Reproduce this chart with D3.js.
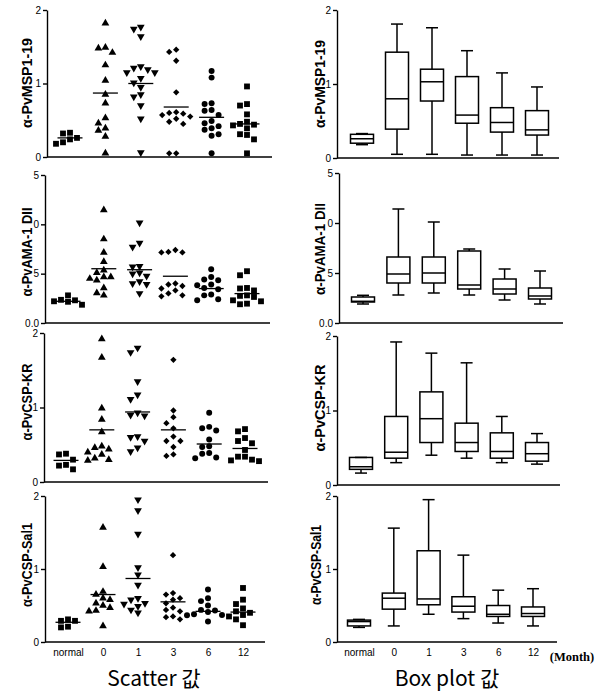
<!DOCTYPE html>
<html><head><meta charset="utf-8">
<script src="https://cdn.jsdelivr.net/npm/d3@7"></script>
<style>body{margin:0;background:#fff}svg{display:block}</style>
</head><body>
<script>
// ---------- data ----------
const groups = ["normal","0","1","3","6","12"];
const titles = ["α-PvMSP1-19","α-PvAMA-1 DII","α-PvCSP-KR","α-PvCSP-Sal1"];
const yMax = [2, 15, 2, 2];
const yTickValues = [[0,1,2],[0,5,10,15],[0,1,2],[0,1,2]];
const yTickLabels = [["0","1","2"],["0.0","5","0","5"],["0","1","2"],["0","1","2"]];

const mspScatter = [
  [0.33,0.32,0.26,0.24,0.2,0.18],
  [1.82,1.49,1.48,1.42,1.25,1.04,0.85,0.73,0.53,0.46,0.39,0.36,0.28,0.05],
  [1.77,1.74,1.64,1.23,1.21,1.19,1.15,1.15,1.07,1.01,0.95,0.85,0.82,0.70,0.52,0.06],
  [1.46,1.43,1.31,0.88,0.61,0.60,0.59,0.57,0.55,0.52,0.48,0.45,0.05,0.05],
  [1.17,1.08,0.73,0.72,0.64,0.63,0.57,0.49,0.46,0.42,0.39,0.37,0.31,0.29,0.05],
  [0.96,0.72,0.70,0.58,0.48,0.45,0.44,0.43,0.39,0.31,0.30,0.24,0.05]
];
const mspMean = [0.26,0.87,1.0,0.68,0.54,0.45];
const mspBox = [[0.18,0.2,0.26,0.32,0.33],[0.05,0.39,0.8,1.43,1.81],[0.05,0.77,1.03,1.2,1.76],
                [0.04,0.47,0.58,1.1,1.45],[0.04,0.35,0.48,0.68,1.15],[0.04,0.31,0.38,0.64,0.96]];

const amaScatter = [
  [2.8,2.35,2.3,2.2,2.15,1.85],
  [11.45,8.5,7.15,6.2,5.35,5.1,4.67,4.67,4.5,4.33,3.55,3.05,2.8],
  [10.15,8.1,7.7,5.75,5.7,5.1,5.0,4.77,4.2,4.0,3.93,3.0],
  [7.4,7.2,7.15,7.15,4.0,3.9,3.75,3.5,3.3,3.0,2.8,2.7],
  [5.45,4.67,4.4,4.33,3.9,3.83,3.55,3.42,2.88,2.8,2.4,2.3],
  [5.25,4.84,3.55,3.5,3.3,2.8,2.75,2.64,2.3,2.2,1.96,1.9]
];
const amaMean = [2.2,5.5,5.4,4.74,3.49,2.98];
const amaBox = [[1.9,2.1,2.17,2.6,2.77],[2.8,4.0,4.9,6.6,11.4],[3.0,4.0,5.0,6.6,10.1],
                [2.8,3.4,3.8,7.2,7.4],[2.3,2.9,3.4,4.4,5.4],[1.9,2.4,2.7,3.5,5.2]];

const krScatter = [
  [0.38,0.37,0.30,0.23,0.22,0.17],
  [1.92,1.67,0.99,0.84,0.67,0.48,0.46,0.44,0.40,0.37,0.32,0.30,0.29],
  [1.80,1.74,1.35,1.17,1.11,0.93,0.90,0.89,0.61,0.60,0.55,0.46,0.41],
  [1.64,0.96,0.87,0.79,0.72,0.61,0.55,0.55,0.47,0.37,0.35],
  [0.93,0.74,0.72,0.69,0.57,0.48,0.47,0.39,0.38,0.33,0.32],
  [0.71,0.68,0.59,0.55,0.52,0.43,0.34,0.34,0.30,0.29,0.28]
];
const krMean = [0.29,0.70,0.94,0.70,0.51,0.45];
const krBox = [[0.16,0.21,0.245,0.37,0.37],[0.3,0.36,0.44,0.92,1.92],[0.4,0.57,0.89,1.25,1.77],
               [0.36,0.45,0.57,0.83,1.64],[0.3,0.36,0.45,0.7,0.92],[0.28,0.32,0.42,0.57,0.69]];

const salScatter = [
  [0.31,0.29,0.29,0.21,0.20],
  [1.57,1.03,0.69,0.65,0.60,0.58,0.53,0.50,0.47,0.43,0.42,0.22],
  [1.95,1.80,1.48,1.02,0.92,0.78,0.60,0.58,0.53,0.52,0.49,0.44,0.40],
  [1.19,0.67,0.65,0.60,0.58,0.53,0.47,0.44,0.42,0.35,0.34,0.31],
  [0.72,0.60,0.56,0.50,0.44,0.43,0.41,0.38,0.37,0.365,0.28],
  [0.74,0.58,0.52,0.46,0.42,0.40,0.37,0.35,0.31,0.23]
];
const salMean = [0.27,0.65,0.87,0.55,0.42,0.41];
const salBox = [[0.2,0.22,0.28,0.3,0.31],[0.22,0.45,0.6,0.67,1.56],[0.38,0.51,0.59,1.25,1.95],
                [0.32,0.41,0.49,0.62,1.19],[0.26,0.35,0.38,0.5,0.71],[0.22,0.35,0.39,0.48,0.73]];

const scatterSets = [mspScatter, amaScatter, krScatter, salScatter];
const meanSets = [mspMean, amaMean, krMean, salMean];
const boxSets = [mspBox, amaBox, krBox, salBox];
const bottomTitles = ["Scatter 값", "Box plot 값"];
const unitLabel = "(Month)";

// ---------- layout ----------
const leftL = [
  {ax:47,x1:272,top:10,bot:157,c0:70,c1:247,tx:32,ty:83,tl:90},
  {ax:45,x1:270,top:175,bot:323,c0:68,c1:247,tx:32,ty:252,tl:89},
  {ax:44,x1:268,top:333,bot:482,c0:66,c1:245,tx:32,ty:402,tl:77},
  {ax:45,x1:265,top:496,bot:642,c0:68,c1:243,tx:32,ty:565,tl:84}];
const rightL = [
  {ax:337,x1:559,top:10,bot:158,c0:362,c1:537,tx:325,ty:84,tl:88},
  {ax:339,x1:563,top:173,bot:323,c0:363,c1:540,tx:325,ty:249,tl:92},
  {ax:337,x1:560,top:336,bot:485,c0:361,c1:537,tx:325,ty:408,tl:87},
  {ax:337,x1:557,top:496,bot:642,c0:359,c1:533,tx:321,ty:565,tl:80}];

const FONT = "'Liberation Sans', Arial, sans-serif";
const svg = d3.select("body").append("svg").attr("width",608).attr("height",698);

function frame(L, i, showX) {
  const y = d3.scaleLinear().domain([0, yMax[i]]).range([L.bot, L.top]);
  const x = d3.scalePoint().domain(groups).range([L.c0, L.c1]);
  const g = svg.append("g");
  const ya = g.append("g").attr("transform",`translate(${L.ax},0)`)
    .call(d3.axisLeft(y).tickValues(yTickValues[i]).tickSize(4).tickSizeOuter(0).tickPadding(2)
      .tickFormat((d,k)=>yTickLabels[i][k]));
  ya.selectAll("path,line").attr("stroke","#000").attr("stroke-width",1.4);
  ya.selectAll("text").attr("font-family",FONT).attr("font-size",10).attr("fill","#000");
  g.append("line").attr("x1",L.ax).attr("x2",L.x1).attr("y1",L.bot).attr("y2",L.bot)
    .attr("stroke","#000").attr("stroke-width",1.5);
  if (showX) {
    const xa = g.append("g").attr("transform",`translate(0,${L.bot})`)
      .call(d3.axisBottom(x).tickSize(0).tickPadding(7));
    xa.select(".domain").remove();
    xa.selectAll("text").attr("font-family",FONT).attr("font-size",10).attr("fill","#000");
  }
  g.append("text").attr("transform",`translate(${L.tx},${L.ty}) rotate(-90)`)
    .attr("text-anchor","middle").attr("font-family",FONT).attr("font-weight","bold")
    .attr("font-size",14.5).attr("textLength",L.tl).attr("lengthAdjust","spacingAndGlyphs")
    .attr("fill","#000").text(titles[i]);
  return {g,x,y};
}

const sym = [
  {t:d3.symbolSquare, s:34, r:0},
  {t:d3.symbolTriangle, s:26, r:0},
  {t:d3.symbolTriangle, s:26, r:180},
  {t:d3.symbolSquare, s:20, r:45},
  {t:d3.symbolCircle, s:28, r:0},
  {t:d3.symbolSquare, s:34, r:0}];

function swarm(vals, y, step, minDy) {
  const pts = vals.map(v=>({v, py:y(v)})).sort((a,b)=>b.v-a.v);
  const placed = [];
  pts.forEach(p=>{
    for (let k=0;k<30;k++){
      const off = k===0 ? 0 : (k%2 ? -1 : 1)*Math.ceil(k/2)*step;
      if (!placed.some(q=>Math.abs(q.py-p.py)<minDy && Math.abs(q.off-off)<step-0.01)) { p.off=off; break; }
    }
    placed.push(p);
  });
  return placed;
}

// scatter panels
for (let i=0;i<4;i++){
  const {g,x,y} = frame(leftL[i], i, i===3);
  groups.forEach((grp,gi)=>{
    const pts = swarm(scatterSets[i][gi], y, 7, 6);
    const s = sym[gi];
    g.selectAll(null).data(pts).enter().append("path")
      .attr("d", d3.symbol().type(s.t).size(s.s))
      .attr("transform", d=>`translate(${x(grp)+d.off},${d.py}) rotate(${s.r})`)
      .attr("fill","#000");
    g.append("line").attr("x1",x(grp)-12.5).attr("x2",x(grp)+12.5)
      .attr("y1",y(meanSets[i][gi])).attr("y2",y(meanSets[i][gi]))
      .attr("stroke","#000").attr("stroke-width",1.3);
  });
}

// box panels
for (let i=0;i<4;i++){
  const {g,x,y} = frame(rightL[i], i, i===3);
  groups.forEach((grp,gi)=>{
    const [mn,q1,md,q3,mx] = boxSets[i][gi];
    const cx = x(grp), bw=23, cw=12;
    const bg = g.append("g").attr("stroke","#000").attr("stroke-width",1.5).attr("fill","none");
    bg.append("line").attr("x1",cx).attr("x2",cx).attr("y1",y(mx)).attr("y2",y(q3));
    bg.append("line").attr("x1",cx).attr("x2",cx).attr("y1",y(q1)).attr("y2",y(mn));
    bg.append("line").attr("x1",cx-cw/2).attr("x2",cx+cw/2).attr("y1",y(mx)).attr("y2",y(mx));
    bg.append("line").attr("x1",cx-cw/2).attr("x2",cx+cw/2).attr("y1",y(mn)).attr("y2",y(mn));
    bg.append("rect").attr("x",cx-bw/2).attr("width",bw).attr("y",y(q3)).attr("height",y(q1)-y(q3));
    bg.append("line").attr("x1",cx-bw/2).attr("x2",cx+bw/2).attr("y1",y(md)).attr("y2",y(md));
  });
}

svg.append("text").attr("x",572).attr("y",661).attr("text-anchor","middle")
  .attr("font-family","'Liberation Serif', 'Times New Roman', serif").attr("font-weight","bold")
  .attr("font-size",12.5).text(unitLabel);
svg.append("text").attr("x",154).attr("y",686).attr("text-anchor","middle")
  .attr("font-family","'Noto Sans CJK KR', sans-serif").attr("font-size",21).text(bottomTitles[0]);
svg.append("text").attr("x",447).attr("y",686).attr("text-anchor","middle")
  .attr("font-family","'Noto Sans CJK KR', sans-serif").attr("font-size",21).text(bottomTitles[1]);
</script>
</body></html>
